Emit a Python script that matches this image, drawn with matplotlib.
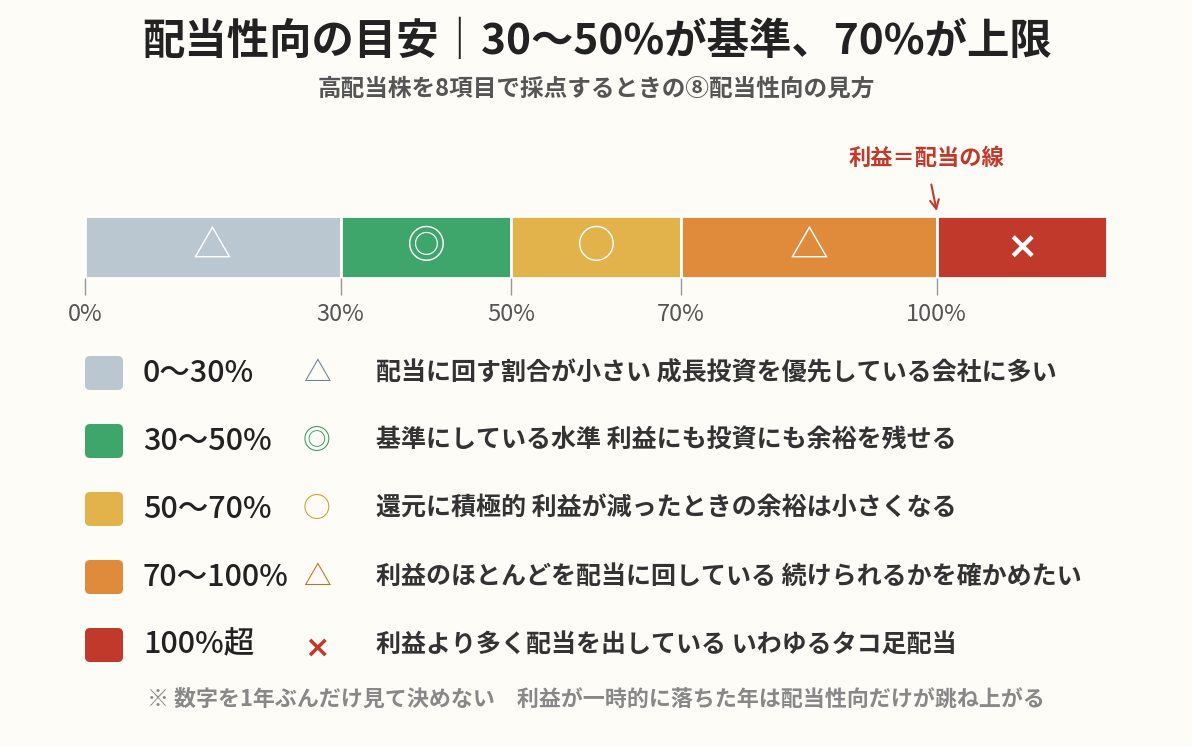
import matplotlib
matplotlib.use("Agg")
from matplotlib import pyplot as plt
from matplotlib.patches import FancyBboxPatch

plt.rcParams['font.family'] = ['Noto Sans CJK JP', 'DejaVu Sans']

# data
edges = [0, 30, 50, 70, 100, 120]
tick_vals = [0, 30, 50, 70, 100]
tick_labels = ['0%', '30%', '50%', '70%', '100%']
range_labels = ['0〜30%', '30〜50%', '50〜70%', '70〜100%', '100%超']
marks = ['△', '◎', '○', '△', '×']
colors = ['#BAC7D1', '#3FA66B', '#E3B34B', '#E08A3C', '#C0392B']
mark_colors = ['#6B7F90', '#2E9A5B', '#D49A2A', '#D0691C', '#C0392B']
notes = ['配当に回す割合が小さい 成長投資を優先している会社に多い',
         '基準にしている水準 利益にも投資にも余裕を残せる',
         '還元に積極的 利益が減ったときの余裕は小さくなる',
         '利益のほとんどを配当に回している 続けられるかを確かめたい',
         '利益より多く配当を出している いわゆるタコ足配当']

W, H = 1192, 746
bg = '#FDFCF7'
fig = plt.figure(figsize=(W / 100, H / 100), dpi=100, facecolor=bg)

def fx(x):
    return x / W

def fy(y):
    return 1 - y / H

fig.text(fx(597), fy(42), '配当性向の目安｜30〜50%が基準、70%が上限', ha='center', va='center',
         fontsize=30.5, fontweight='bold', color='#222222')
fig.text(fx(596), fy(89), '高配当株を8項目で採点するときの⑧配当性向の見方', ha='center', va='center',
         fontsize=17, fontweight='bold', color='#555555')

# bar axis
ax = fig.add_axes([fx(85), fy(278), fx(1107) - fx(85), (278 - 216) / H])
ax.set_facecolor(bg)
ax.set_xlim(edges[0], edges[-1])
ax.set_ylim(0, 1)
for i in range(len(colors)):
    ax.barh(0.5, edges[i + 1] - edges[i], left=edges[i], height=1, color=colors[i],
            edgecolor='white', linewidth=2)
    mid = (edges[i] + edges[i + 1]) / 2
    if marks[i] == '×':
        ax.text(mid, 0.47, marks[i], ha='center', va='center', color='white', fontsize=27,
                fontweight='bold', family='DejaVu Sans')
    else:
        ax.text(mid, 0.5, marks[i], ha='center', va='center', color='white', fontsize=28)
for s in ax.spines.values():
    s.set_visible(False)
ax.set_yticks([])
ax.set_xticks(tick_vals)
ax.set_xticklabels(tick_labels)
ax.tick_params(axis='x', length=12, width=1, color='#999999', labelsize=17,
               labelcolor='#555555', pad=6)

ax.annotate('利益＝配当の線', xy=(100, 1.08), xycoords='data',
            xytext=(fx(926), fy(158)), textcoords='figure fraction',
            ha='center', va='center', fontsize=16, fontweight='bold', color='#C0392B',
            arrowprops=dict(arrowstyle='->', color='#C0392B', lw=1.5,
                            shrinkA=9, shrinkB=0),
            annotation_clip=False)

# legend overlay in pixel coords
lg = fig.add_axes([0, 0, 1, 1], facecolor='none')
lg.set_xlim(0, W)
lg.set_ylim(H, 0)
lg.axis('off')
row0, step = 373, 68
for i in range(len(range_labels)):
    y = row0 + step * i
    lg.add_patch(FancyBboxPatch((87, y - 15), 34, 30, boxstyle='round,pad=2,rounding_size=5',
                                facecolor=colors[i], edgecolor='none'))
    lg.text(143, y, range_labels[i], ha='left', va='center', fontsize=22,
            fontweight='medium', color='#222222')
    if marks[i] == '×':
        lg.text(317, y + 3, marks[i], ha='center', va='center', fontsize=22,
                fontweight='bold', color=mark_colors[i], family='DejaVu Sans')
    else:
        lg.text(317, y, marks[i], ha='center', va='center', fontsize=20,
                color=mark_colors[i])
    lg.text(376, y, notes[i], ha='left', va='center', fontsize=18, fontweight='bold',
            color='#333333')

fig.text(fx(596), fy(699), '※ 数字を1年ぶんだけ見て決めない　利益が一時的に落ちた年は配当性向だけが跳ね上がる',
         ha='center', va='center', fontsize=15.8, fontweight='bold', color='#888888')

fig.savefig('out.png', dpi=100, facecolor=bg)
